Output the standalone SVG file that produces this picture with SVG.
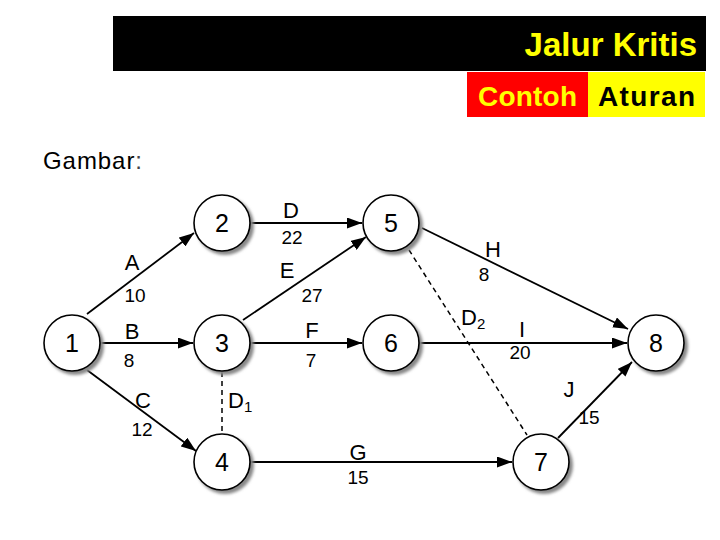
<svg xmlns="http://www.w3.org/2000/svg" width="720" height="540" viewBox="0 0 720 540">
<style>
.node circle.c{fill:#fff;stroke:#000;stroke-width:1.6}
.node circle.s{fill:#888;filter:url(#blur)}
.node text{font-family:"Liberation Sans",Arial,sans-serif;font-size:25px;text-anchor:middle;fill:#000}
.edge{stroke:#000;stroke-width:1.8;fill:none}
.arr{marker-end:url(#ah)}
.dash{stroke-dasharray:5,4;stroke-width:1.5}
.lbl{font-family:"Liberation Sans",Arial,sans-serif;font-size:22px;text-anchor:middle;fill:#000}
.lbls{font-family:"Liberation Sans",Arial,sans-serif;font-size:22px;text-anchor:start;fill:#000}
.num{font-family:"Liberation Sans",Arial,sans-serif;font-size:19px;text-anchor:middle;fill:#000}
.sub{font-size:15px}
.title{font-family:"Liberation Sans",Arial,sans-serif}
</style>
<defs>
<filter id="blur" x="-20%" y="-20%" width="140%" height="140%"><feGaussianBlur stdDeviation="1.5"/></filter>
<marker id="ah" markerUnits="userSpaceOnUse" markerWidth="15" markerHeight="11" refX="15" refY="5.5" orient="auto"><path d="M0,0 L15,5.5 L0,11 z" fill="#000"/></marker>
</defs>
<rect width="720" height="540" fill="#fff"/>
<g id="header">
<rect x="113" y="16" width="593" height="55" fill="#000"/>
<text class="title" x="697" y="56" font-size="33" font-weight="bold" fill="#ffff00" text-anchor="end">Jalur Kritis</text>
<rect x="467" y="72" width="121" height="45" fill="#ff0000"/>
<rect x="588" y="72" width="117" height="45" fill="#ffff00"/>
<text class="title" x="478" y="106" font-size="28" font-weight="bold" fill="#ffff00" textLength="99">Contoh</text>
<text class="title" x="598" y="106" font-size="28" font-weight="bold" fill="#000" textLength="97">Aturan</text>
<text class="title" x="43" y="169" font-size="24" fill="#000" textLength="99">Gambar<tspan fill="#444">:</tspan></text>
</g>
<g id="connectors">
<line class="edge arr" x1="87" y1="314" x2="194" y2="233"/>
<line class="edge arr" x1="101" y1="343" x2="193" y2="343"/>
<line class="edge arr" x1="87" y1="370" x2="196" y2="451"/>
<line class="edge arr" x1="251" y1="223" x2="362" y2="223"/>
<line class="edge arr" x1="243" y1="320" x2="366" y2="237"/>
<line class="edge arr" x1="251" y1="343" x2="362" y2="343"/>
<line class="edge arr" x1="251" y1="462" x2="512" y2="462"/>
<line class="edge arr" x1="422" y1="228" x2="628" y2="329"/>
<line class="edge arr" x1="420" y1="343" x2="627" y2="343"/>
<line class="edge arr" x1="558" y1="438" x2="632" y2="362"/>
<line class="edge dash" x1="222" y1="372" x2="222" y2="433"/>
<line class="edge dash" x1="409" y1="250" x2="527" y2="435"/>
<text class="lbl" x="132" y="270">A</text><text class="num" x="135" y="302">10</text>
<text class="lbl" x="132" y="339">B</text><text class="num" x="129" y="367">8</text>
<text class="lbl" x="143" y="408">C</text><text class="num" x="142" y="436">12</text>
<text class="lbl" x="291" y="218">D</text><text class="num" x="292" y="244">22</text>
<text class="lbl" x="287" y="278">E</text><text class="num" x="312" y="302">27</text>
<text class="lbl" x="312" y="338">F</text><text class="num" x="311" y="367">7</text>
<text class="lbl" x="358" y="460">G</text><text class="num" x="358" y="484">15</text>
<text class="lbl" x="493" y="257">H</text><text class="num" x="484" y="281">8</text>
<text class="lbl" x="522" y="337">I</text><text class="num" x="520" y="359">20</text>
<text class="lbl" x="569" y="397">J</text><text class="num" x="589" y="424">15</text>
<text class="lbls" x="228" y="408">D<tspan class="sub" dy="4">1</tspan></text>
<text class="lbls" x="461" y="325">D<tspan class="sub" dy="4">2</tspan></text>
</g>
<g id="n1" class="node"><circle class="s" cx="75" cy="346" r="29"/><circle class="c" cx="72" cy="343" r="28"/><text x="72" y="352">1</text></g>
<g id="n2" class="node"><circle class="s" cx="225" cy="226" r="29"/><circle class="c" cx="222" cy="223" r="28"/><text x="222" y="232">2</text></g>
<g id="n3" class="node"><circle class="s" cx="225" cy="346" r="29"/><circle class="c" cx="222" cy="343" r="28"/><text x="222" y="352">3</text></g>
<g id="n4" class="node"><circle class="s" cx="225" cy="465" r="29"/><circle class="c" cx="222" cy="462" r="28"/><text x="222" y="471">4</text></g>
<g id="n5" class="node"><circle class="s" cx="394" cy="226" r="29"/><circle class="c" cx="391" cy="223" r="28"/><text x="391" y="232">5</text></g>
<g id="n6" class="node"><circle class="s" cx="394" cy="346" r="29"/><circle class="c" cx="391" cy="343" r="28"/><text x="391" y="352">6</text></g>
<g id="n7" class="node"><circle class="s" cx="544" cy="465" r="29"/><circle class="c" cx="541" cy="462" r="28"/><text x="541" y="471">7</text></g>
<g id="n8" class="node"><circle class="s" cx="659" cy="346" r="29"/><circle class="c" cx="656" cy="343" r="28"/><text x="656" y="352">8</text></g>
</svg>
